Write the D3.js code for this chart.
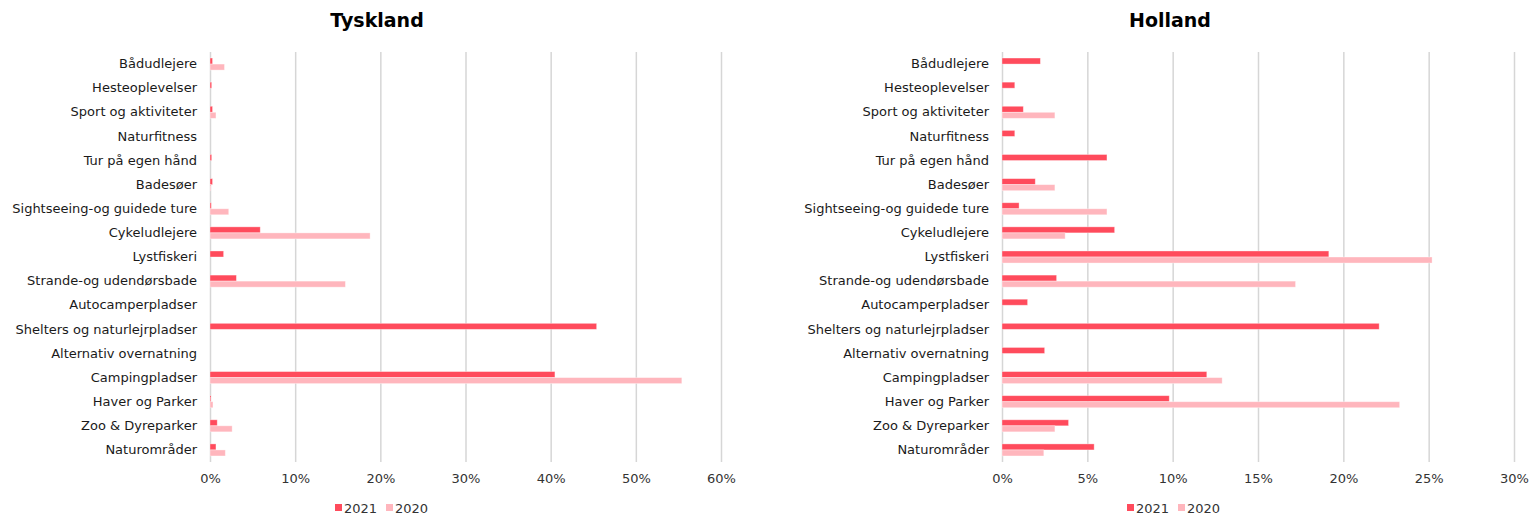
<!DOCTYPE html>
<html>
<head>
  <meta charset="utf-8">
  <title>Tyskland / Holland</title>
  <script src="https://d3js.org/d3.v7.min.js"></script>
  <style>
    body { margin: 0; background: #fff; font-family: "DejaVu Sans", sans-serif; }
    .grid line { stroke: #d6d6d6; stroke-width: 1.5; }
    .grid path { display: none; }
    .ylab text { font-size: 13px; fill: #1a1a1a; font-family: "DejaVu Sans", sans-serif; }
    .xlab text { font-size: 13px; fill: #333; font-family: "DejaVu Sans", sans-serif; }
    .title { font-size: 19px; font-weight: bold; fill: #000; }
    .legend text { font-size: 13px; fill: #333; }
  </style>
</head>
<body>
<svg id="chart" width="1530" height="515"></svg>
<script>
// categories, top to bottom
var categories = ["Bådudlejere", "Hesteoplevelser", "Sport og aktiviteter", "Naturfitness",
  "Tur på egen hånd", "Badesøer", "Sightseeing-og guidede ture", "Cykeludlejere", "Lystfiskeri",
  "Strande-og udendørsbade", "Autocamperpladser", "Shelters og naturlejrpladser",
  "Alternativ overnatning", "Campingpladser", "Haver og Parker", "Zoo & Dyreparker", "Naturområder"];

var series = ["2021", "2020"];

// Tyskland (%)
var tysk2021 = [0.3, 0.2, 0.3, 0, 0.2, 0.3, 0.15, 5.9, 1.6, 3.1, 0, 45.4, 0, 40.5, 0.1, 0.85, 0.7];
var tysk2020 = [1.7, 0, 0.7, 0, 0, 0.1, 2.2, 18.8, 0, 15.9, 0, 0, 0, 55.4, 0.35, 2.6, 1.8];

// Holland (%)
var holl2021 = [2.25, 0.75, 1.25, 0.75, 6.15, 1.95, 1.0, 6.6, 19.15, 3.2, 1.5, 22.1, 2.5, 12.0, 9.8, 3.9, 5.4];
var holl2020 = [0, 0, 3.1, 0, 0, 3.1, 6.15, 3.7, 25.2, 17.2, 0, 0, 0, 12.9, 23.3, 3.1, 2.45];

var tyskTicks = [0, 10, 20, 30, 40, 50, 60];
var hollTicks = [0, 5, 10, 15, 20, 25, 30];

var colors = { "2021": "#ff4b5c", "2020": "#ffb6bd" };

var svg = d3.select("#chart");

function drawPanel(opt) {
  var top = 52, bottom = 462;

  var x = d3.scaleLinear()
    .domain([0, d3.max(opt.ticks)])
    .range([opt.x0, opt.x1]);

  var y = d3.scaleBand()
    .domain(categories)
    .range([top, bottom])
    .paddingInner(0.5)
    .paddingOuter(0.25);

  var ys = d3.scaleBand()
    .domain(series)
    .range([0, y.bandwidth()]);

  var g = svg.append("g");

  // title
  g.append("text")
    .attr("class", "title")
    .attr("x", opt.titleX)
    .attr("y", 27)
    .attr("text-anchor", "middle")
    .text(opt.title);

  // vertical gridlines
  g.append("g")
    .attr("class", "grid")
    .attr("transform", "translate(0," + bottom + ")")
    .call(d3.axisBottom(x).tickValues(opt.ticks).tickSize(-(bottom - top)).tickFormat(""));

  // x tick labels
  g.append("g")
    .attr("class", "xlab")
    .attr("transform", "translate(0," + bottom + ")")
    .call(d3.axisBottom(x).tickValues(opt.ticks).tickSize(0).tickPadding(12)
      .tickFormat(function(d) { return d + "%"; }))
    .call(function(a) { a.select(".domain").remove(); });

  // category labels
  g.append("g")
    .attr("class", "ylab")
    .attr("transform", "translate(" + opt.x0 + ",0)")
    .call(d3.axisLeft(y).tickSize(0).tickPadding(13))
    .call(function(a) { a.select(".domain").remove(); });

  // bars
  var rows = categories.map(function(c, i) {
    return { cat: c, values: [{ s: "2021", v: opt.d2021[i] }, { s: "2020", v: opt.d2020[i] }] };
  });

  g.append("g").selectAll("g")
    .data(rows)
    .enter().append("g")
      .attr("transform", function(d) { return "translate(0," + y(d.cat) + ")"; })
    .selectAll("rect")
    .data(function(d) { return d.values.filter(function(e) { return e.v > 0; }); })
    .enter().append("rect")
      .attr("x", x(0))
      .attr("y", function(d) { return ys(d.s); })
      .attr("width", function(d) { return Math.max(0, x(d.v) - x(0)); })
      .attr("height", ys.bandwidth())
      .attr("fill", function(d) { return colors[d.s]; })
      .attr("stroke", "#fff")
      .attr("stroke-opacity", 0.45)
      .attr("stroke-width", 0.8);

  // legend
  var lg = g.append("g")
    .attr("class", "legend")
    .attr("transform", "translate(" + opt.legendX + ",513)");
  var item = lg.selectAll("g")
    .data(series)
    .enter().append("g")
      .attr("transform", function(d, i) { return "translate(" + (i * 51) + ",0)"; });
  item.append("rect")
    .attr("x", 0).attr("y", -9)
    .attr("width", 7).attr("height", 7)
    .attr("fill", function(d) { return colors[d]; });
  item.append("text")
    .attr("x", 9).attr("y", 0)
    .text(function(d) { return d; });
}

drawPanel({ title: "Tyskland", titleX: 377, x0: 210, x1: 721, ticks: tyskTicks,
  d2021: tysk2021, d2020: tysk2020, legendX: 335 });
drawPanel({ title: "Holland", titleX: 1170, x0: 1002, x1: 1514, ticks: hollTicks,
  d2021: holl2021, d2020: holl2020, legendX: 1127 });
</script>
</body>
</html>
